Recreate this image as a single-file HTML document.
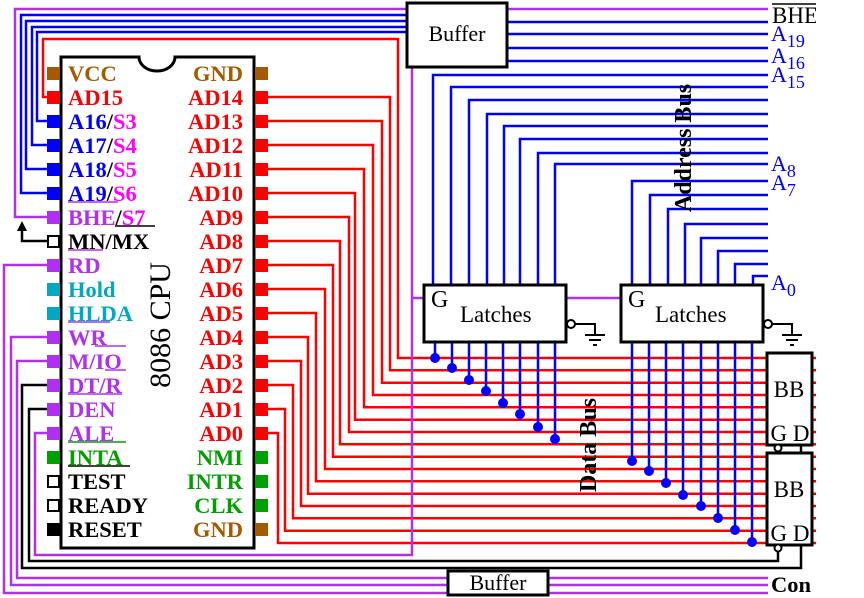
<!DOCTYPE html>
<html><head><meta charset="utf-8"><style>
html,body{margin:0;padding:0;background:#fff}
svg{display:block}
.l{font-family:"Liberation Serif",serif;font-weight:bold;font-size:22.5px}
.n{font-family:"Liberation Serif",serif;font-size:22px}
</style></head><body>
<svg width="864" height="598" viewBox="0 0 864 598" xmlns="http://www.w3.org/2000/svg">
<rect width="864" height="598" fill="#fff"/>
<g fill="none" stroke-width="2.5">
<polyline stroke="#b030f0" points="47,217 15,217 15,9 768,9"/>
<polyline stroke="#00f" points="47,193 21,193 21,15 407,15"/>
<polyline stroke="#00f" points="47,169 26,169 26,21 407,21"/>
<polyline stroke="#00f" points="47,145 32,145 32,27 407,27"/>
<polyline stroke="#00f" points="47,121 37,121 37,32 407,32"/>
<polyline stroke="#f00" points="47,97 43,97 43,39 398,39 398,358 816,358"/>
<line stroke="#00f" x1="507" y1="22" x2="768" y2="22"/>
<line stroke="#00f" x1="507" y1="34" x2="768" y2="34"/>
<line stroke="#00f" x1="507" y1="48" x2="768" y2="48"/>
<line stroke="#00f" x1="507" y1="61" x2="768" y2="61"/>
<g stroke="#00f">
<polyline points="433,285 433,75 768,75"/>
<polyline points="451,285 451,87 768,87"/>
<polyline points="469,285 469,100 768,100"/>
<polyline points="487,285 487,114 768,114"/>
<polyline points="504,285 504,126 768,126"/>
<polyline points="520,285 520,139 768,139"/>
<polyline points="538,285 538,153 768,153"/>
<polyline points="555,285 555,164 768,164"/>
<polyline points="632,285 632,181 768,181"/>
<polyline points="650,285 650,195 768,195"/>
<polyline points="668,285 668,209 768,209"/>
<polyline points="685,285 685,224 768,224"/>
<polyline points="701,285 701,238 768,238"/>
<polyline points="718,285 718,251 768,251"/>
<polyline points="735,285 735,264 768,264"/>
<polyline points="753,285 753,276 768,276"/>
</g>
<g stroke="#f00">
<polyline points="267,97 390,97 390,370.3 816,370.3"/>
<polyline points="267,121 382,121 382,382.7 816,382.7"/>
<polyline points="267,145 373,145 373,395 816,395"/>
<polyline points="267,169 364,169 364,407.3 816,407.3"/>
<polyline points="267,193 355,193 355,419.7 816,419.7"/>
<polyline points="267,217 349,217 349,432 816,432"/>
<polyline points="267,241 340,241 340,444.3 816,444.3"/>
<polyline points="267,265 333,265 333,456.7 816,456.7"/>
<polyline points="267,289 325,289 325,469 816,469"/>
<polyline points="267,313 316,313 316,481.3 816,481.3"/>
<polyline points="267,337 308,337 308,493.7 816,493.7"/>
<polyline points="267,361 301,361 301,506 816,506"/>
<polyline points="267,385 293,385 293,518.3 816,518.3"/>
<polyline points="267,409 285,409 285,530.7 816,530.7"/>
<polyline points="267,433 278,433 278,543 816,543"/>
</g>
<g stroke="#00f">
<line x1="435" y1="342" x2="435" y2="358"/>
<line x1="452" y1="342" x2="452" y2="370.3"/>
<line x1="469" y1="342" x2="469" y2="382.7"/>
<line x1="486" y1="342" x2="486" y2="395"/>
<line x1="503" y1="342" x2="503" y2="407.3"/>
<line x1="520" y1="342" x2="520" y2="419.7"/>
<line x1="538" y1="342" x2="538" y2="432"/>
<line x1="555" y1="342" x2="555" y2="444.3"/>
<line x1="632" y1="342" x2="632" y2="461"/>
<line x1="649" y1="342" x2="649" y2="471"/>
<line x1="666" y1="342" x2="666" y2="483"/>
<line x1="683" y1="342" x2="683" y2="495"/>
<line x1="701" y1="342" x2="701" y2="506"/>
<line x1="718" y1="342" x2="718" y2="518.3"/>
<line x1="735" y1="342" x2="735" y2="530.7"/>
<line x1="752" y1="342" x2="752" y2="543"/>
</g>
<polyline stroke="#b030f0" points="412,67 412,555 35,555 35,433 47,433"/>
<line stroke="#b030f0" x1="412" y1="298" x2="424" y2="298"/>
<line stroke="#b030f0" x1="566" y1="298" x2="621" y2="298"/>
<polyline stroke="#b030f0" points="47,265 4,265 4,593 768,593"/>
<polyline stroke="#b030f0" points="47,337 11,337 11,585 768,585"/>
<polyline stroke="#b030f0" points="47,361 17,361 17,578 768,578"/>
<polyline stroke="#000" points="47,409 29,409 29,561 778,561 778,552"/>
<polyline stroke="#000" points="47,385 22,385 22,568 801,568 801,545"/>
<line stroke="#000" x1="801" y1="445" x2="801" y2="453"/>
<polyline stroke="#000" points="47,241 22,241 22,229"/>
<polyline stroke="#000" stroke-width="2" points="575,324 595,324 595,335"/>
<polyline stroke="#000" stroke-width="2" points="772,324 792,324 792,335"/>
</g>
<polygon points="22,221 17,231 27,231" fill="#000"/>
<g stroke="#000" stroke-width="2">
<line x1="585" y1="335" x2="605" y2="335"/><line x1="589" y1="340" x2="601" y2="340"/><line x1="593" y1="345" x2="597" y2="345"/>
<line x1="782" y1="335" x2="802" y2="335"/><line x1="786" y1="340" x2="798" y2="340"/><line x1="790" y1="345" x2="794" y2="345"/>
</g>
<g fill="#00f">
<circle cx="435" cy="358" r="5"/><circle cx="452" cy="368" r="5"/><circle cx="469" cy="380" r="5"/><circle cx="486" cy="391" r="5"/>
<circle cx="503" cy="403" r="5"/><circle cx="520" cy="414" r="5"/><circle cx="538" cy="427" r="5"/><circle cx="555" cy="439" r="5"/>
<circle cx="632" cy="461" r="5"/><circle cx="649" cy="471" r="5"/><circle cx="666" cy="483" r="5"/><circle cx="683" cy="495" r="5"/>
<circle cx="701" cy="506" r="5"/><circle cx="718" cy="518" r="5"/><circle cx="735" cy="530" r="5"/><circle cx="752" cy="542" r="5"/>
</g>
<g fill="#fff" stroke="#000" stroke-width="3">
<rect x="407" y="3" width="100" height="64"/>
<rect x="424" y="285" width="142" height="57"/>
<rect x="621" y="285" width="142" height="57"/>
<rect x="767" y="353" width="45" height="92"/>
<rect x="767" y="453" width="45" height="92"/>
<rect x="448" y="571" width="100" height="24"/>
</g>
<g fill="#fff" stroke="#000" stroke-width="2">
<circle cx="571" cy="324" r="4"/><circle cx="768" cy="324" r="4"/>
<circle cx="778" cy="448" r="3.5"/><circle cx="778" cy="548" r="3.5"/>
</g>
<g class="n" fill="#000">
<text x="457" y="41" text-anchor="middle">Buffer</text>
<text x="431" y="307" font-size="24">G</text><text x="460" y="322" font-size="23">Latches</text>
<text x="628" y="307" font-size="24">G</text><text x="655" y="322" font-size="23">Latches</text>
<text x="789" y="397" text-anchor="middle" font-size="23">BB</text><text x="790" y="441" text-anchor="middle" font-size="23">G D</text>
<text x="789" y="497" text-anchor="middle" font-size="23">BB</text><text x="790" y="541" text-anchor="middle" font-size="23">G D</text>
<text x="498" y="590" text-anchor="middle">Buffer</text>
<text x="772" y="23" font-size="23">BHE</text>
</g>
<line x1="772" y1="4" x2="816" y2="4" stroke="#000" stroke-width="1.5"/>
<text class="l" x="771" y="592" fill="#000" font-size="23">Con</text>
<rect x="816" y="0" width="48" height="598" fill="#fff"/>
<g class="n" fill="#00f" font-size="24">
<text x="771" y="41">A<tspan font-size="18" dy="6">19</tspan></text>
<text x="771" y="63">A<tspan font-size="18" dy="6">16</tspan></text>
<text x="771" y="82">A<tspan font-size="18" dy="6">15</tspan></text>
<text x="771" y="171">A<tspan font-size="18" dy="6">8</tspan></text>
<text x="771" y="190">A<tspan font-size="18" dy="6">7</tspan></text>
<text x="771" y="290">A<tspan font-size="18" dy="6">0</tspan></text>
</g>
<text transform="translate(691,148) rotate(-90)" text-anchor="middle" font-family="Liberation Serif,serif" font-weight="bold" font-size="24" fill="#000">Address Bus</text>
<text transform="translate(596,445) rotate(-90)" text-anchor="middle" font-family="Liberation Serif,serif" font-weight="bold" font-size="24" fill="#000">Data Bus</text>
<path d="M61,57 H139 A18,14 0 0 0 175,57 H254 V548 H61 Z" fill="#fff" stroke="#000" stroke-width="3"/>
<text transform="translate(170,325) rotate(-90)" text-anchor="middle" font-family="Liberation Serif,serif" font-size="30" fill="#000">8086 CPU</text>
<g stroke-width="2">
<rect x="47" y="67" width="13" height="13" fill="#a65a00"/>
<rect x="47" y="91" width="13" height="13" fill="#f00"/>
<rect x="47" y="115" width="13" height="13" fill="#00f"/>
<rect x="47" y="139" width="13" height="13" fill="#00f"/>
<rect x="47" y="163" width="13" height="13" fill="#00f"/>
<rect x="47" y="187" width="13" height="13" fill="#00f"/>
<rect x="47" y="211" width="13" height="13" fill="#b030f0"/>
<rect x="48" y="236" width="11" height="11" fill="#fff" stroke="#000"/>
<rect x="47" y="259" width="13" height="13" fill="#b030f0"/>
<rect x="47" y="283" width="13" height="13" fill="#00a8c0"/>
<rect x="47" y="307" width="13" height="13" fill="#00a8c0"/>
<rect x="47" y="331" width="13" height="13" fill="#b030f0"/>
<rect x="47" y="355" width="13" height="13" fill="#b030f0"/>
<rect x="47" y="379" width="13" height="13" fill="#b030f0"/>
<rect x="47" y="403" width="13" height="13" fill="#b030f0"/>
<rect x="47" y="427" width="13" height="13" fill="#b030f0"/>
<rect x="47" y="451" width="13" height="13" fill="#00a000"/>
<rect x="48" y="476" width="11" height="11" fill="#fff" stroke="#000"/>
<rect x="48" y="500" width="11" height="11" fill="#fff" stroke="#000"/>
<rect x="47" y="523" width="13" height="13" fill="#000"/>
</g>
<g>
<rect x="255" y="67" width="13" height="13" fill="#a65a00"/>
<rect x="255" y="91" width="13" height="13" fill="#f00"/><rect x="255" y="115" width="13" height="13" fill="#f00"/>
<rect x="255" y="139" width="13" height="13" fill="#f00"/><rect x="255" y="163" width="13" height="13" fill="#f00"/>
<rect x="255" y="187" width="13" height="13" fill="#f00"/><rect x="255" y="211" width="13" height="13" fill="#f00"/>
<rect x="255" y="235" width="13" height="13" fill="#f00"/><rect x="255" y="259" width="13" height="13" fill="#f00"/>
<rect x="255" y="283" width="13" height="13" fill="#f00"/><rect x="255" y="307" width="13" height="13" fill="#f00"/>
<rect x="255" y="331" width="13" height="13" fill="#f00"/><rect x="255" y="355" width="13" height="13" fill="#f00"/>
<rect x="255" y="379" width="13" height="13" fill="#f00"/><rect x="255" y="403" width="13" height="13" fill="#f00"/>
<rect x="255" y="427" width="13" height="13" fill="#f00"/>
<rect x="255" y="451" width="13" height="13" fill="#00a000"/><rect x="255" y="475" width="13" height="13" fill="#00a000"/>
<rect x="255" y="499" width="13" height="13" fill="#00a000"/><rect x="255" y="523" width="13" height="13" fill="#a65a00"/>
</g>
<g class="l">
<text x="68" y="81" fill="#a65a00">VCC</text>
<text x="68" y="105" fill="#f00">AD15</text>
<text x="68" y="129"><tspan fill="#00f">A16</tspan><tspan fill="#000">/</tspan><tspan fill="#f0f">S3</tspan></text>
<text x="68" y="153"><tspan fill="#00f">A17</tspan><tspan fill="#000">/</tspan><tspan fill="#f0f">S4</tspan></text>
<text x="68" y="177"><tspan fill="#00f">A18</tspan><tspan fill="#000">/</tspan><tspan fill="#f0f">S5</tspan></text>
<text x="68" y="201"><tspan fill="#00f">A19</tspan><tspan fill="#000">/</tspan><tspan fill="#f0f">S6</tspan></text>
<text x="68" y="225"><tspan fill="#b030f0">BHE</tspan><tspan fill="#000">/</tspan><tspan fill="#f0f">S7</tspan></text>
<text x="68" y="249" fill="#000">MN/MX</text>
<text x="68" y="273" fill="#b030f0">RD</text>
<text x="68" y="297" fill="#00a8c0">Hold</text>
<text x="68" y="321" fill="#00a8c0">HLDA</text>
<text x="68" y="345" fill="#b030f0">WR</text>
<text x="68" y="369" fill="#b030f0">M/IO</text>
<text x="68" y="393" fill="#b030f0">DT/R</text>
<text x="68" y="417" fill="#b030f0">DEN</text>
<text x="68" y="441" fill="#b030f0">ALE</text>
<text x="68" y="465" fill="#00a000">INTA</text>
<text x="68" y="489" fill="#000">TEST</text>
<text x="68" y="513" fill="#000">READY</text>
<text x="68" y="537" fill="#000">RESET</text>
</g>
<g class="l" text-anchor="end">
<text x="243" y="81" fill="#a65a00">GND</text>
<text x="243" y="105" fill="#f00">AD14</text><text x="243" y="129" fill="#f00">AD13</text>
<text x="243" y="153" fill="#f00">AD12</text><text x="243" y="177" fill="#f00">AD11</text>
<text x="243" y="201" fill="#f00">AD10</text><text x="243" y="225" fill="#f00">AD9</text>
<text x="243" y="249" fill="#f00">AD8</text><text x="243" y="273" fill="#f00">AD7</text>
<text x="243" y="297" fill="#f00">AD6</text><text x="243" y="321" fill="#f00">AD5</text>
<text x="243" y="345" fill="#f00">AD4</text><text x="243" y="369" fill="#f00">AD3</text>
<text x="243" y="393" fill="#f00">AD2</text><text x="243" y="417" fill="#f00">AD1</text>
<text x="243" y="441" fill="#f00">AD0</text>
<text x="243" y="465" fill="#00a000">NMI</text><text x="243" y="489" fill="#00a000">INTR</text>
<text x="243" y="513" fill="#00a000">CLK</text><text x="243" y="537" fill="#a65a00">GND</text>
</g>
<g stroke-width="1.5">
<line x1="68" y1="202" x2="118" y2="202" stroke="#b030f0"/>
<line x1="115" y1="226" x2="155" y2="226" stroke="#000"/>
<line x1="68" y1="250" x2="103" y2="250" stroke="#b030f0"/>
<line x1="68" y1="322" x2="110" y2="322" stroke="#b030f0"/>
<line x1="95" y1="346" x2="126" y2="346" stroke="#b030f0"/>
<line x1="105" y1="370" x2="126" y2="370" stroke="#b030f0"/>
<line x1="68" y1="394" x2="122" y2="394" stroke="#b030f0"/>
<line x1="68" y1="442" x2="126" y2="442" stroke="#00a000"/>
<line x1="68" y1="466" x2="130" y2="466" stroke="#000"/>
</g>
</svg>
</body></html>
